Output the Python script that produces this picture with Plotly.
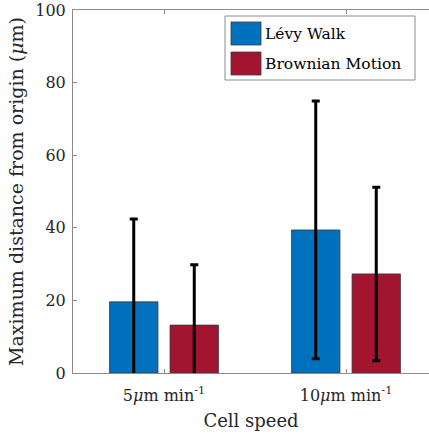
import plotly.graph_objects as go

# Cell speeds (category positions 1, 2) and tick labels
speed_pos = [1, 2]
speed_labels = ["5<i>μ</i>m min<sup>-1</sup>", "10<i>μ</i>m min<sup>-1</sup>"]

# Mean maximum distance from origin (μm) and standard deviation
series_names = ["Lévy Walk", "Brownian Motion"]
series_colors = ["#0072BD", "#A2142F"]
levy_mean = [19.6, 39.4]
levy_sd = [22.8, 35.5]
brown_mean = [13.2, 27.3]
brown_sd = [16.6, 23.9]

W, H = 429, 436
L, T, B, R = 73, 10, 63, 0
FONT = "DejaVu Serif"
TXT = "#262626"
AX = "#8c8c8c"

fig = go.Figure()
for name, color, mean, sd in [
    (series_names[0], series_colors[0], levy_mean, levy_sd),
    (series_names[1], series_colors[1], brown_mean, brown_sd),
]:
    fig.add_trace(go.Bar(
        x=speed_pos, y=mean, name=name,
        marker=dict(color=color, line=dict(color="#3a3a3a", width=0.8)),
        error_y=dict(type="data", array=sd, symmetric=True,
                     color="black", thickness=3, width=4),
        showlegend=False,
    ))

# Legend box with swatches, drawn in paper coordinates
pw, ph = W - L - R, H - T - B
def px(x):
    return (x - L) / pw
def py(y):
    return (H - B - y) / ph

shapes = [dict(type="rect", xref="paper", yref="paper",
               x0=px(225), x1=px(415), y0=py(80), y1=py(16),
               line=dict(color="#8c8c8c", width=1), fillcolor="white")]
annotations = []
rows = [(22, 45), (52, 75)]
for (y0, y1), name, color in zip(rows, series_names, series_colors):
    shapes.append(dict(type="rect", xref="paper", yref="paper",
                       x0=px(231), x1=px(261), y0=py(y1), y1=py(y0),
                       line=dict(color="#3a3a3a", width=0.8), fillcolor=color))
    annotations.append(dict(xref="paper", yref="paper", x=px(263),
                            y=py((y0 + y1) / 2), text=name, showarrow=False,
                            xanchor="left", yanchor="middle",
                            font=dict(family=FONT, size=15.5, color="black")))

fig.update_layout(
    width=W, height=H,
    margin=dict(l=L, r=R, t=T, b=B, pad=0),
    paper_bgcolor="white", plot_bgcolor="white",
    barmode="group", bargap=0.335, bargroupgap=0.2,
    font=dict(family=FONT, size=16, color=TXT),
    shapes=shapes, annotations=annotations,
    xaxis=dict(
        range=[0.5, 0.5 + (W - L - R) / 182.0],
        tickvals=speed_pos, ticktext=speed_labels,
        ticks="inside", ticklen=4, tickcolor=AX,
        showline=True, linecolor=AX, linewidth=1, mirror="ticks",
        showgrid=False, zeroline=False, ticklabelstandoff=8,
        tickfont=dict(family=FONT, size=16, color=TXT),
        title=dict(text="Cell speed", standoff=10,
                   font=dict(family=FONT, size=18, color=TXT)),
    ),
    yaxis=dict(
        range=[0, 100], tickvals=[0, 20, 40, 60, 80, 100],
        ticks="inside", ticklen=4, tickcolor=AX,
        showline=True, linecolor=AX, linewidth=1,
        showgrid=False, zeroline=False, ticklabelstandoff=3,
        tickfont=dict(family=FONT, size=16, color=TXT),
        title=dict(text="Maximum distance from origin (<i>μ</i>m)", standoff=6,
                   font=dict(family=FONT, size=19, color=TXT)),
    ),
)

fig.write_html("out.html")
